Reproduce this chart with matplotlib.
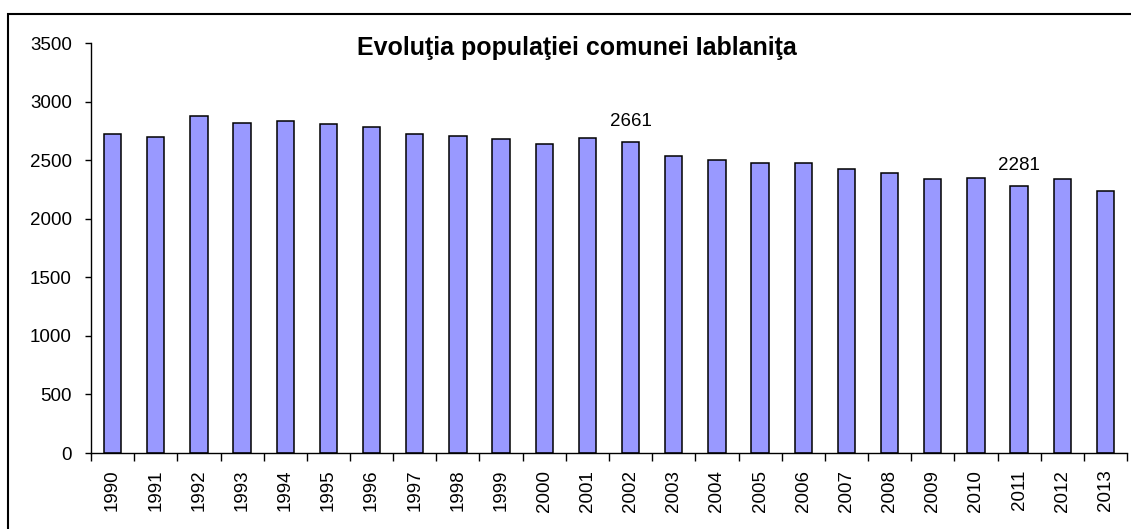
import numpy as np
import matplotlib.pyplot as plt
from matplotlib.patches import Rectangle

plt.rcParams['font.family'] = ['Liberation Sans', 'DejaVu Sans']

### data
years = [str(y) for y in range(1990, 2014)]
population = [2724, 2698, 2876, 2822, 2833, 2808, 2782, 2724, 2711, 2680, 2641,
              2687, 2661, 2533, 2505, 2477, 2477, 2423, 2394, 2338, 2352,
              2281, 2338, 2238]
labelled = ['2002', '2011']
title = 'Evoluţia populaţiei comunei Iablaniţa'

W, H = 1131, 529
fig = plt.figure(figsize=(W/100, H/100), dpi=100)

# outer chart frame (cut off on the right and at the bottom)
fig.patches.append(Rectangle((8/W, -0.1), 1.2, 1 - 14/H + 0.1, transform=fig.transFigure,
                             fill=False, edgecolor='black', linewidth=1.5))

ax = fig.add_axes([91/W, 1 - 453/H, (1127 - 91)/W, (453 - 43.3)/H])
x = np.arange(len(years))
bars = ax.bar(x, population, width=0.4, color='#9999FF', edgecolor='black', linewidth=1.1)

for i, yr in enumerate(years):
    if yr in labelled:
        ax.annotate(str(population[i]), (x[i], population[i]), xytext=(0, 14.5),
                    textcoords='offset points', ha='center', va='center', fontsize=13.5)

ax.set_xlim(-0.5, len(years) - 0.5)
ax.set_ylim(0, 3500)
ax.set_yticks(np.arange(0, 3501, 500))

# Excel-style category axis: ticks between the bars, labels centred below
ax.set_xticks(np.arange(-0.5, len(years), 1.0))
ax.set_xticklabels([])
ax.set_xticks(x, minor=True)
ax.set_xticklabels(years, minor=True, rotation=90, fontsize=13.5)
ax.tick_params(axis='x', which='major', direction='out', length=6, width=1)
ax.tick_params(axis='x', which='minor', length=0, pad=12)
ax.tick_params(axis='y', direction='out', length=4.2, width=1, pad=9.5, labelsize=13.5)

ax.spines['top'].set_visible(False)
ax.spines['right'].set_visible(False)
ax.spines['left'].set_linewidth(1)
ax.spines['bottom'].set_linewidth(1)

fig.text(576.5/W, 1 - 55/H, title, ha='center', va='baseline', fontsize=18, fontweight='bold')

fig.savefig('out.png', dpi=100)
plt.close(fig)
